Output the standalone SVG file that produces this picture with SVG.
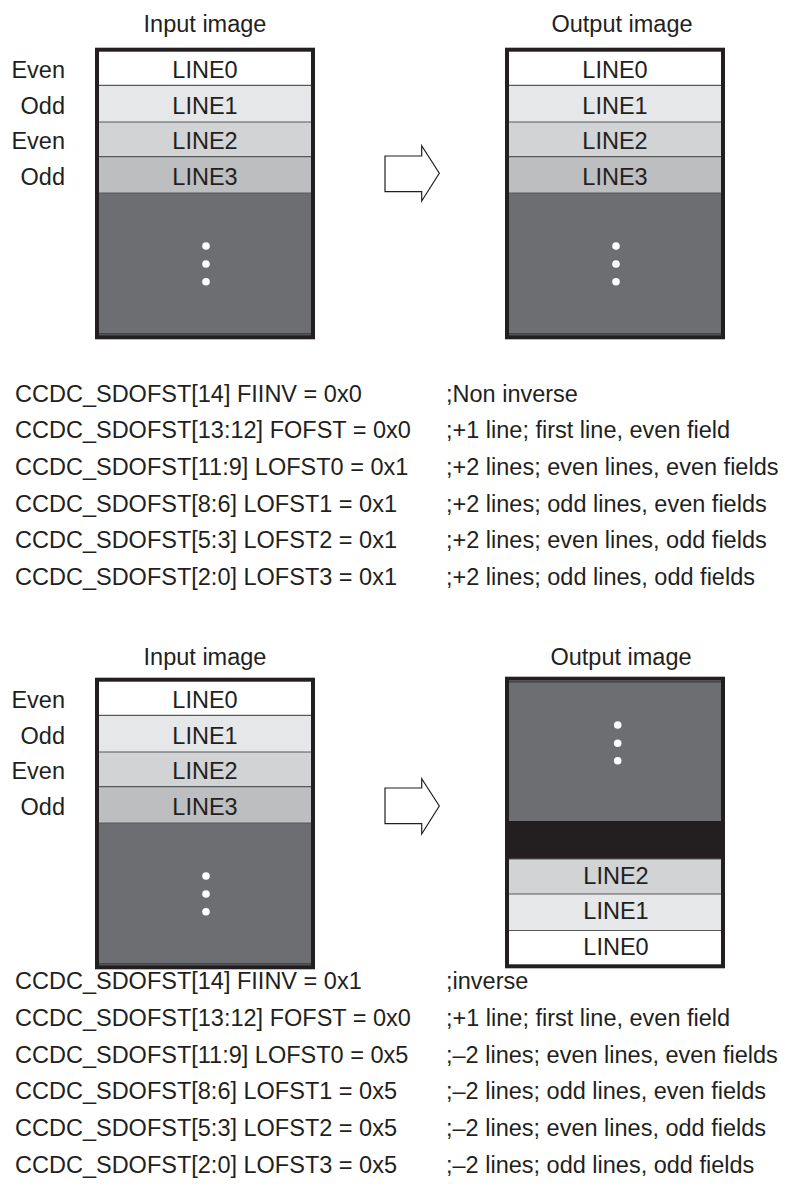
<svg xmlns="http://www.w3.org/2000/svg" width="786" height="1201" viewBox="0 0 786 1201">
  <style>
    text { font-family: "Liberation Sans", Arial, sans-serif; font-size: 23.5px; fill: #231f20; }
    .c { text-anchor: middle; }
    .r { text-anchor: end; }
    .border { fill: none; stroke: #231f20; stroke-width: 4; }
    .sep { stroke: #58595b; stroke-width: 1.2; }
    .l0 { fill: #ffffff; }
    .l1 { fill: #e6e7e8; }
    .l2 { fill: #d1d3d4; }
    .l3 { fill: #bcbec0; }
    .dk { fill: #6d6e71; }
    .blk { fill: #231f20; }
    .dot { fill: #ffffff; }
    .arrow { fill: #ffffff; stroke: #231f20; stroke-width: 1.2; stroke-linejoin: miter; }
  </style>
  <defs>
    <g id="stdbox">
      <rect class="l0" x="99" y="50.7" width="212" height="34.6"/>
      <rect class="l1" x="99" y="85.3" width="212" height="36.7"/>
      <rect class="l2" x="99" y="122" width="212" height="34.7"/>
      <rect class="l3" x="99" y="156.7" width="212" height="36.3"/>
      <rect class="dk" x="99" y="193" width="212" height="143"/>
      <line class="sep" x1="99" y1="85.3" x2="311" y2="85.3"/>
      <line class="sep" x1="99" y1="122" x2="311" y2="122"/>
      <line class="sep" x1="99" y1="156.7" x2="311" y2="156.7"/>
      <line class="sep" x1="99" y1="193" x2="311" y2="193"/>
      <line x1="99" y1="333.8" x2="311" y2="333.8" stroke="#3a3a3c" stroke-width="1.2"/>
      <rect class="border" x="97" y="49.7" width="216" height="287.6"/>
      <text class="c" x="205" y="78.3">LINE0</text>
      <text class="c" x="205" y="114">LINE1</text>
      <text class="c" x="205" y="149">LINE2</text>
      <text class="c" x="205" y="185">LINE3</text>
      <circle class="dot" cx="206" cy="246" r="3.8"/>
      <circle class="dot" cx="206" cy="264" r="3.8"/>
      <circle class="dot" cx="206" cy="281.7" r="3.8"/>
    </g>
  </defs>

  <!-- Top section -->
  <g id="top-input">
    <text class="c" x="205" y="31.7">Input image</text>
    <text class="r" x="65" y="78.3">Even</text>
    <text class="r" x="65" y="114">Odd</text>
    <text class="r" x="65" y="149">Even</text>
    <text class="r" x="65" y="185">Odd</text>
    <use href="#stdbox"/>
  </g>
  <g id="top-output">
    <text class="c" x="622" y="31.7">Output image</text>
    <use href="#stdbox" transform="translate(410,0)"/>
  </g>

  <g id="top-code">
    <text x="15" y="401.7">CCDC_SDOFST[14] FIINV = 0x0</text>
    <text x="15" y="438.3">CCDC_SDOFST[13:12] FOFST = 0x0</text>
    <text x="15" y="475">CCDC_SDOFST[11:9] LOFST0 = 0x1</text>
    <text x="15" y="511.7">CCDC_SDOFST[8:6] LOFST1 = 0x1</text>
    <text x="15" y="548.3">CCDC_SDOFST[5:3] LOFST2 = 0x1</text>
    <text x="15" y="585">CCDC_SDOFST[2:0] LOFST3 = 0x1</text>
    <text x="446" y="401.7">;Non inverse</text>
    <text x="446" y="438.3">;+1 line; first line, even field</text>
    <text x="446" y="475">;+2 lines; even lines, even fields</text>
    <text x="446" y="511.7">;+2 lines; odd lines, even fields</text>
    <text x="446" y="548.3">;+2 lines; even lines, odd fields</text>
    <text x="446" y="585">;+2 lines; odd lines, odd fields</text>
  </g>

  <!-- Bottom section -->
  <g id="bottom-input">
    <text class="c" x="205" y="665">Input image</text>
    <text class="r" x="65" y="708.3">Even</text>
    <text class="r" x="65" y="744">Odd</text>
    <text class="r" x="65" y="779">Even</text>
    <text class="r" x="65" y="815">Odd</text>
    <use href="#stdbox" transform="translate(0,630)"/>
  </g>

  <g id="bottom-output">
    <text class="c" x="621" y="665">Output image</text>
    <rect class="dk" x="509" y="680.7" width="212" height="140.3"/>
    <line x1="509" y1="681.9" x2="721" y2="681.9" stroke="#3a3a3c" stroke-width="1.2"/>
    <rect class="blk" x="509" y="821" width="212" height="38"/>
    <rect class="l2" x="509" y="859" width="212" height="35"/>
    <rect class="l1" x="509" y="894" width="212" height="36.5"/>
    <rect class="l0" x="509" y="930.5" width="212" height="36"/>
    <line class="sep" x1="509" y1="859" x2="721" y2="859"/>
    <line class="sep" x1="509" y1="894" x2="721" y2="894"/>
    <line class="sep" x1="509" y1="930.5" x2="721" y2="930.5"/>
    <rect class="border" x="507" y="678.7" width="216" height="287.6"/>
    <text class="c" x="616" y="884.3">LINE2</text>
    <text class="c" x="616" y="919.3">LINE1</text>
    <text class="c" x="616" y="955">LINE0</text>
    <circle class="dot" cx="617.7" cy="725" r="3.8"/>
    <circle class="dot" cx="617.7" cy="743.3" r="3.8"/>
    <circle class="dot" cx="617.7" cy="760.7" r="3.8"/>
  </g>

  <g id="bottom-code">
    <text x="15" y="989.4">CCDC_SDOFST[14] FIINV = 0x1</text>
    <text x="15" y="1026">CCDC_SDOFST[13:12] FOFST = 0x0</text>
    <text x="15" y="1062.7">CCDC_SDOFST[11:9] LOFST0 = 0x5</text>
    <text x="15" y="1099.4">CCDC_SDOFST[8:6] LOFST1 = 0x5</text>
    <text x="15" y="1136">CCDC_SDOFST[5:3] LOFST2 = 0x5</text>
    <text x="15" y="1172.7">CCDC_SDOFST[2:0] LOFST3 = 0x5</text>
    <text x="446" y="989.4">;inverse</text>
    <text x="446" y="1026">;+1 line; first line, even field</text>
    <text x="446" y="1062.7">;–2 lines; even lines, even fields</text>
    <text x="446" y="1099.4">;–2 lines; odd lines, even fields</text>
    <text x="446" y="1136">;–2 lines; even lines, odd fields</text>
    <text x="446" y="1172.7">;–2 lines; odd lines, odd fields</text>
  </g>

  <g id="connectors">
    <polygon class="arrow" points="385,156 421.7,156 421.7,145.7 439.3,173.3 421.7,201 421.7,191.7 385,191.7"/>
    <polygon class="arrow" points="385,788 421.7,788 421.7,778.7 439.3,806 421.7,834 421.7,823.7 385,823.7"/>
  </g>
</svg>
